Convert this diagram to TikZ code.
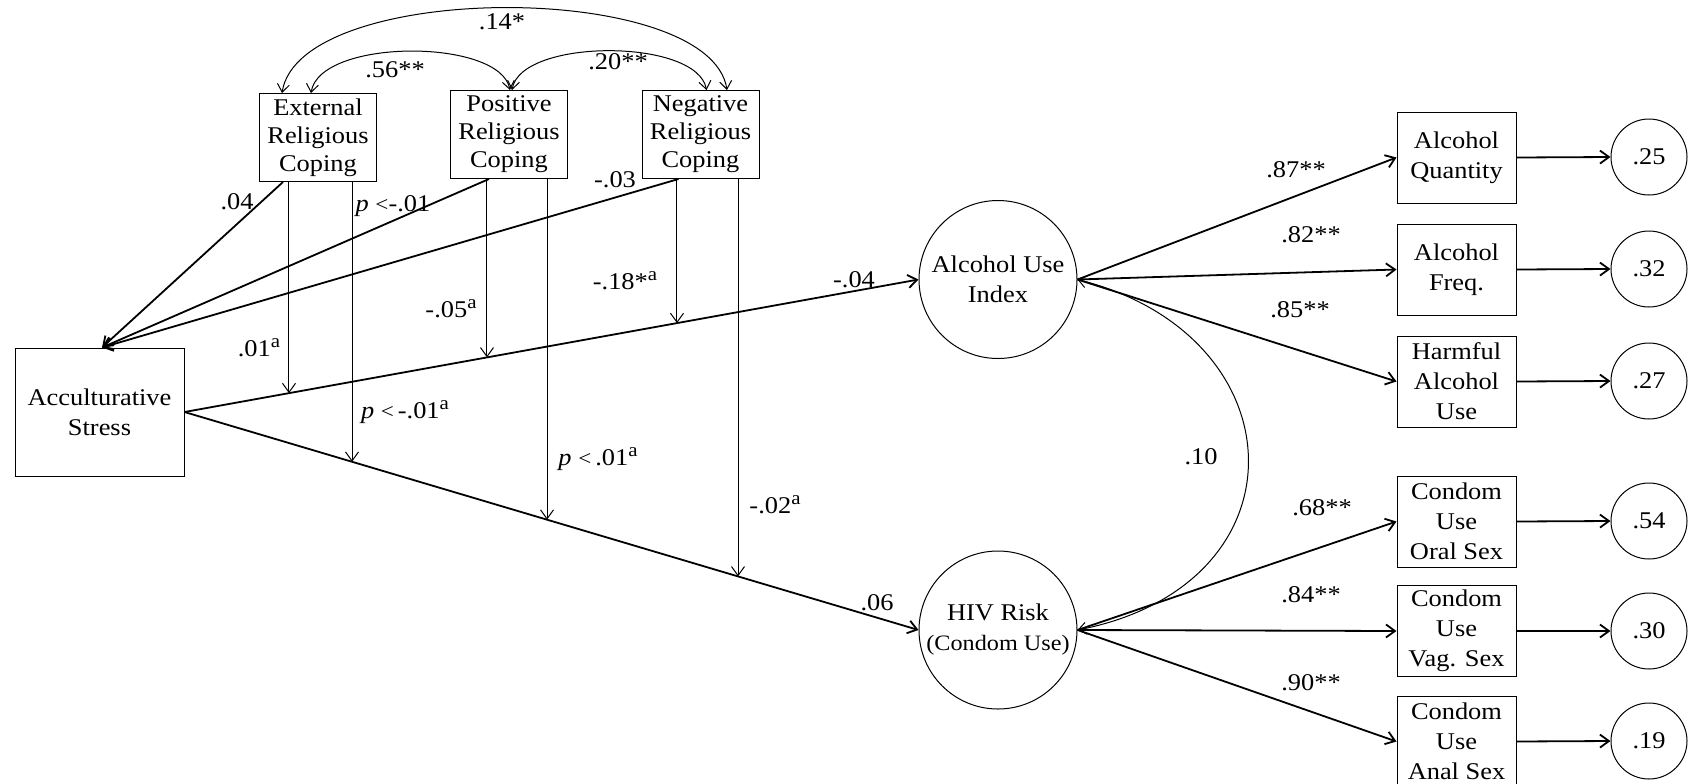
\documentclass[tikz,border=0pt]{standalone}
\usepackage{fontspec}
\setmainfont{Liberation Serif}[FakeStretch=1.1]
\usetikzlibrary{arrows.meta,calc}
\newcommand{\supa}{\raisebox{0.85ex}{\fontsize{9.5}{9.5}\selectfont a}}
\newcommand{\lessthan}{{\fontsize{10.5}{10.5}\selectfont<}}
\begin{document}
\begin{tikzpicture}[x=0.5pt,y=-0.5pt,
  every node/.style={font=\fontsize{12}{15}\selectfont, inner sep=0pt},
  box/.style={draw, line width=0.5pt, align=center, minimum width=59.5pt, minimum height=45.5pt},
  cbox/.style={draw, line width=0.5pt, align=center, minimum width=58.5pt, minimum height=44pt, font=\fontsize{12}{14}\selectfont},
  lat/.style={draw, circle, line width=0.5pt, align=center, minimum size=79pt},
  err/.style={draw, circle, line width=0.5pt, minimum size=38pt},
  arr/.style={-{Straight Barb[length=4.5pt,width=6.5pt]}},
  mainarrow/.style={arr, line width=0.9pt},
  modarrow/.style={arr, line width=0.5pt},
  cov/.style={{Straight Barb[length=4pt,width=6pt]}-{Straight Barb[length=4pt,width=6pt]}, line width=0.5pt},
]
\useasboundingbox (0,0) rectangle (1688,783);

% nodes
\node[box, minimum width=84.5pt, minimum height=64pt] (acc) at (99.5,412) {Acculturative\\Stress};
\node[cbox] (ext) at (318,137.5) {External\\Religious\\Coping};
\node[cbox] (pos) at (509,134.5) {Positive\\Religious\\Coping};
\node[cbox] (neg) at (700.5,134.5) {Negative\\Religious\\Coping};
\node[lat] (alc) at (998,279.5) {Alcohol Use\\Index};
\node[lat] (hiv) at (998,630) {HIV Risk\\{\fontsize{11}{15}\selectfont(Condom Use)}};

\node[box] (q) at (1456.5,157.5) {Alcohol\\Quantity};
\node[box] (f) at (1456.5,269.5) {Alcohol\\Freq.};
\node[box] (h) at (1456.5,381.5) {Harmful\\Alcohol\\Use};
\node[box] (o) at (1456.5,521.5) {Condom\\Use\\Oral Sex};
\node[box] (v) at (1456.5,631) {Condom\\Use\\Vag. Sex};
\node[box] (a) at (1456.5,741.5) {Condom\\Use\\Anal Sex};

\node[err] (e1) at (1649,157) {.25};
\node[err] (e2) at (1649,269) {.32};
\node[err] (e3) at (1649,381) {.27};
\node[err] (e4) at (1649,521) {.54};
\node[err] (e5) at (1649,631) {.30};
\node[err] (e6) at (1649,741) {.19};

% indicator paths
\foreach \i/\e in {q/e1,f/e2,h/e3,o/e4,v/e5,a/e6}{
  \draw[mainarrow] (\i.east) -- (\e.west);
}
\draw[mainarrow] (alc.east) -- (q.west);
\draw[mainarrow] (alc.east) -- (f.west);
\draw[mainarrow] (alc.east) -- (h.west);
\draw[mainarrow] (hiv.east) -- (o.west);
\draw[mainarrow] (hiv.east) -- (v.west);
\draw[mainarrow] (hiv.east) -- (a.west);

% main paths
\draw[mainarrow] (acc.east) -- (alc.west);
\draw[mainarrow] (acc.east) -- (hiv.west);

% coping -> stress
\draw[mainarrow] ($(ext.south)+(-35,0)$) -- ($(acc.north)+(2.5,0)$);
\draw[mainarrow] ($(pos.south)+(-20,0)$) -- ($(acc.north)+(2.5,0)$);
\draw[mainarrow] ($(neg.south)+(-22,0)$) -- ($(acc.north)+(2.5,0)$);

% moderation arrows
\coordinate (u1) at (intersection of acc.east--alc.west and 289,0--289,800);
\coordinate (u2) at (intersection of acc.east--alc.west and 487,0--487,800);
\coordinate (u3) at (intersection of acc.east--alc.west and 677,0--677,800);
\coordinate (d1) at (intersection of acc.east--hiv.west and 352,0--352,800);
\coordinate (d2) at (intersection of acc.east--hiv.west and 547,0--547,800);
\coordinate (d3) at (intersection of acc.east--hiv.west and 738,0--738,800);
\draw[modarrow] (ext.south -| u1) -- (u1);
\draw[modarrow] (ext.south -| d1) -- (d1);
\draw[modarrow] (pos.south -| u2) -- (u2);
\draw[modarrow] (pos.south -| d2) -- (d2);
\draw[modarrow] (neg.south -| u3) -- (u3);
\draw[modarrow] (neg.south -| d3) -- (d3);

% covariances
\draw[cov] ($(ext.north)+(-36,0)$) .. controls (300,-20) and (710,-20) .. ($(neg.north)+(26.5,0)$);
\draw[cov] ($(ext.north)+(-7,0)$) .. controls (320,38) and (500,38) .. ($(pos.north)+(1,0)$);
\draw[cov] ($(pos.north)+(3,0)$) .. controls (521,38) and (697,38) .. ($(neg.north)+(6,0)$);
\draw[cov] (alc.east) .. controls (1300,335) and (1310,585) .. (hiv.east);

% labels
\node (t14) at (502,21.5) {.14*};
\node (t56) at (395,70) {.56**};
\node (t20) at (618,62) {.20**};
\node (t04) at (237,202) {.04};
\node (tp1) at (393,206) {\textit{p} \lessthan-.01};
\node (t03) at (615,180) {-.03};
\node (t01a) at (259,348) {.01\supa};
\node (t05a) at (451,309) {-.05\supa};
\node (t18a) at (625,281) {-.18*\supa};
\node (tp2) at (405,412) {\textit{p} \lessthan\,-.01\supa};
\node (tp3) at (598,459) {\textit{p} \lessthan\,.01\supa};
\node (t02a) at (775,505) {-.02\supa};
\node (t04b) at (854,280) {-.04};
\node (t06) at (877,603) {.06};
\node (t87) at (1296,170) {.87**};
\node (t82) at (1311,235) {.82**};
\node (t85) at (1300,310) {.85**};
\node (t10) at (1201,457) {.10};
\node (t68) at (1322,508) {.68**};
\node (t84) at (1311,595) {.84**};
\node (t90) at (1311,683) {.90**};
\end{tikzpicture}
\end{document}
